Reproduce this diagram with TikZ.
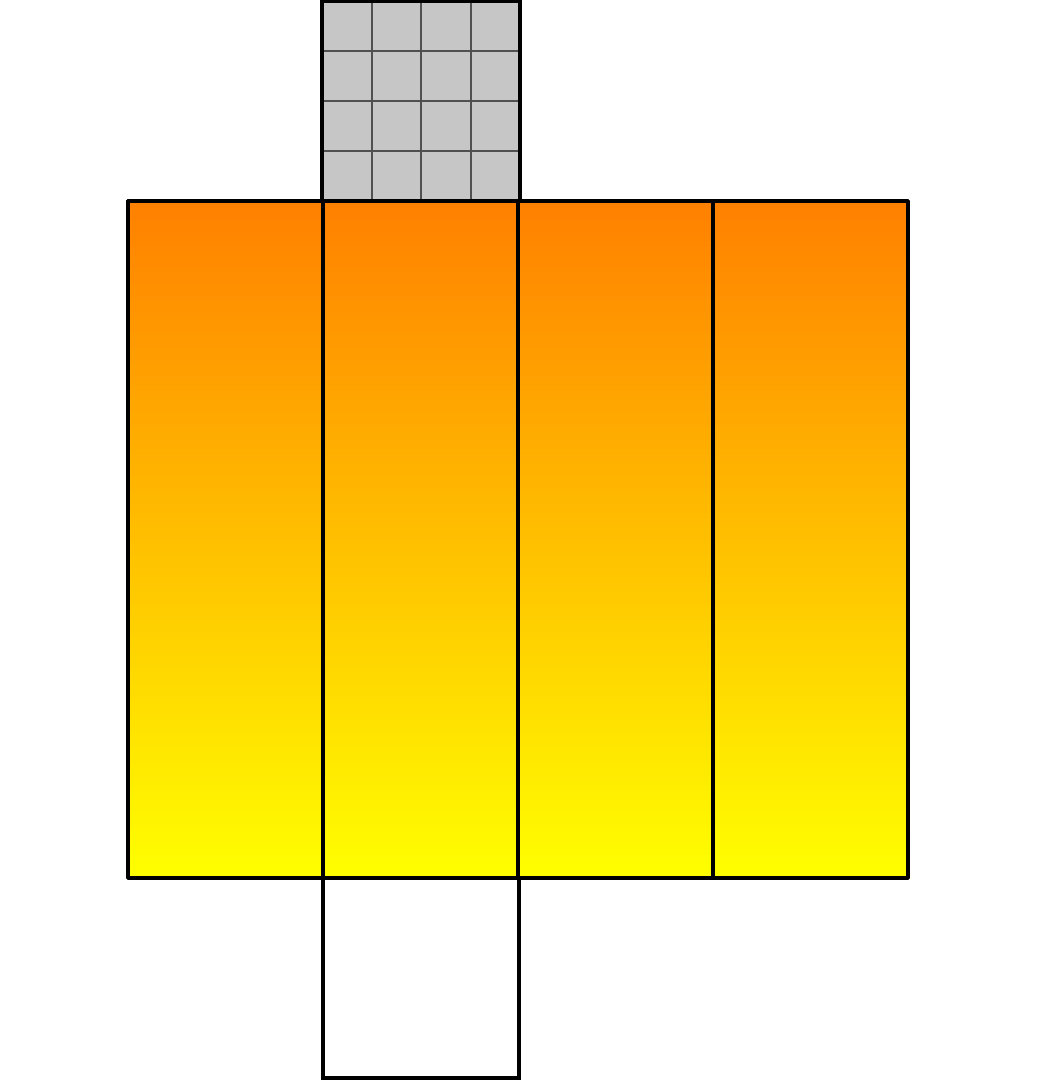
\documentclass[tikz,border=0pt]{standalone}
\begin{document}
\begin{tikzpicture}[x=0.75pt,y=-0.75pt,
  col/.style={top color=orange1,bottom color=yellow1,draw=black,line width=2.6pt,line join=round},
  cell/.style={fill=gray1,draw=gray2,line width=1.5pt},
  plain/.style={fill=white,draw=black,line width=2.6pt}]
\definecolor{orange1}{HTML}{FF8000}
\definecolor{yellow1}{HTML}{FFFF00}
\definecolor{gray1}{HTML}{C6C6C6}
\definecolor{gray2}{HTML}{505050}
\useasboundingbox (0,0) rectangle (1037,1080);
% top grid box
\foreach \i in {0,...,3}{
  \foreach \j in {0,...,3}{
    \draw[cell] ({322+\i*49.5},{1+\j*50}) rectangle ({322+(\i+1)*49.5},{1+(\j+1)*50});
  }
}
\draw[black,line width=2.6pt] (322,201) -- (322,1) -- (520,1) -- (520,201);
% bottom box
\draw[plain] (323,878) rectangle (519,1078);
% columns
\foreach \k in {0,...,3}{
  \draw[col] ({128+\k*195},201) rectangle ({128+(\k+1)*195},878);
}
\draw[black,line width=2.6pt,line join=round] (128,201) rectangle (908,878);
\end{tikzpicture}
\end{document}
